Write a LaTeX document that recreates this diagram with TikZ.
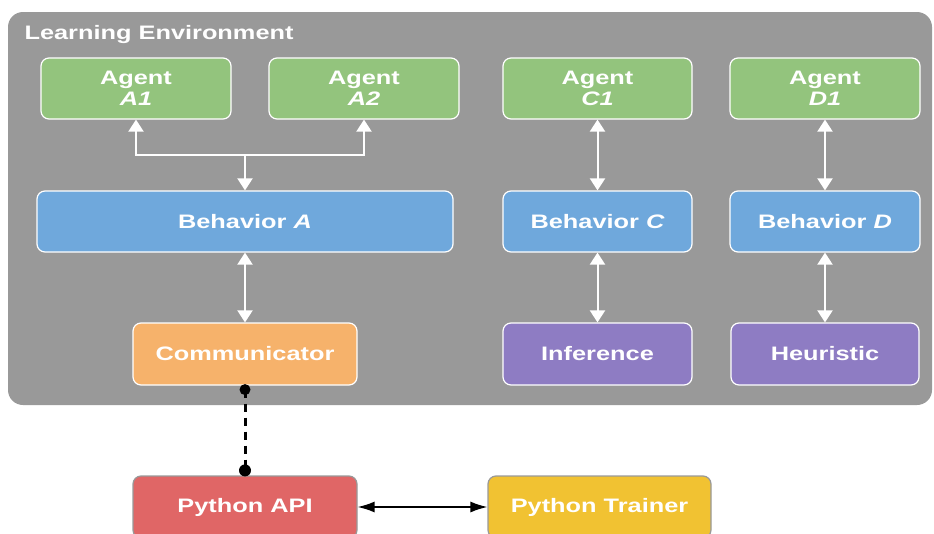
\documentclass[tikz,border=0pt]{standalone}
\usepackage{fontspec}
\setmainfont[FakeStretch=1.3]{Liberation Sans}
\usetikzlibrary{arrows.meta}
\usetikzlibrary{positioning}
\definecolor{envgray}{HTML}{999999}
\definecolor{agentgreen}{HTML}{93C47D}
\definecolor{behblue}{HTML}{6FA8DC}
\definecolor{commorange}{HTML}{F6B26B}
\definecolor{brainpurple}{HTML}{8E7CC3}
\definecolor{apired}{HTML}{E06666}
\definecolor{trainyellow}{HTML}{F1C232}
\tikzset{box/.style = {draw=white, line width=1.2pt, rounded corners=8pt,
                       text=white, align=center, inner sep=0pt,
                       font=\bfseries\fontsize{19.5}{21}\selectfont,
                       minimum height=61pt},
         pybox/.style = {box, draw=envgray, minimum height=62pt},
         wlink/.style = {draw=white, line width=2pt,
                         {Triangle[width=15pt,length=12pt]}-{Triangle[width=15pt,length=12pt]}},
         wend/.style = {draw=white, line width=2pt, -{Triangle[width=15pt,length=12pt]}}}

\begin{document}
\begin{tikzpicture}[x=1pt, y=-1pt]
    \useasboundingbox (0,0) rectangle (934,533);
    \node [fill=envgray, rounded corners=15pt, minimum width=924pt, minimum height=393pt,
           inner sep=0pt] (env) at (470,208.5) {};
    \node [anchor=base west, text=white, font=\bfseries\fontsize{19.5}{21}\selectfont]
          (envtitle) at (21,39) {Learning Environment};

    \node [box, fill=agentgreen, minimum width=190pt] (agA1) at (136,88.5) {Agent\\{\itshape A1}};
    \node [box, fill=agentgreen, minimum width=190pt] (agA2) at (364,88.5) {Agent\\{\itshape A2}};
    \node [box, fill=agentgreen, minimum width=189pt] (agC1) at (597.5,88.5) {Agent\\{\itshape C1}};
    \node [box, fill=agentgreen, minimum width=190pt] (agD1) at (825,88.5) {Agent\\{\itshape D1}};

    \node [box, fill=behblue, minimum width=416pt] (behA) at (245,221.5) {Behavior {\itshape A}};
    \node [box, fill=behblue, minimum width=189pt] (behC) at (597.5,221.5) {Behavior {\itshape C}};
    \node [box, fill=behblue, minimum width=190pt] (behD) at (825,221.5) {Behavior {\itshape D}};

    \node [box, fill=commorange, minimum width=224pt, minimum height=62pt] (comm) at (245,354) {Communicator};
    \node [box, fill=brainpurple, minimum width=189pt, minimum height=62pt] (infer) at (597.5,354) {Inference};
    \node [box, fill=brainpurple, minimum width=188pt, minimum height=62pt] (heur) at (825,354) {Heuristic};

    \node [pybox, fill=apired, minimum width=224pt] (api) at (245,507) {Python API};
    \node [pybox, fill=trainyellow, minimum width=223pt] (trainer) at (599.5,507) {Python Trainer};

    % agents of behavior A share one link
    \coordinate (junc) at (245,155);
    \draw [wend] (junc) -- (behA);
    \draw [wend] (junc) -| (agA1);
    \draw [wend] (junc) -| (agA2);

    \draw [wlink] (agC1) -- (behC);
    \draw [wlink] (agD1) -- (behD);
    \draw [wlink] (behA) -- (comm);
    \draw [wlink] (behC) -- (infer);
    \draw [wlink] (behD) -- (heur);

    \coordinate (cdot) at ([yshift=-4pt]comm.south);
    \coordinate (adot) at ([yshift=5pt]api.north);
    \draw [line width=3pt, dash pattern=on 8pt off 6pt] (cdot) -- (adot);
    \fill (cdot) circle (5.5pt);
    \fill (adot) circle (6pt);

    \draw [line width=1.5pt, {Latex[length=17pt,width=11pt]}-{Latex[length=17pt,width=11pt]}]
          (api) -- (trainer);
\end{tikzpicture}
\end{document}
